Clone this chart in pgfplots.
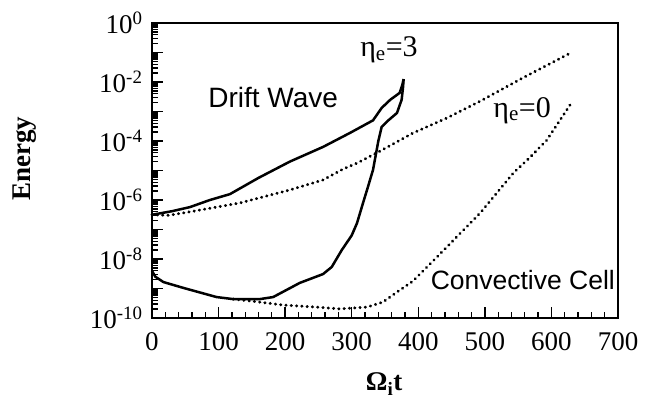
\documentclass[border=0pt]{standalone}
\usepackage{fontspec}
\setmainfont{Liberation Serif}
\newfontfamily\sansf{Liberation Sans}
\usepackage{pgfplots}
\pgfplotsset{compat=1.18}
\begin{document}
\begin{tikzpicture}
\begin{axis}[
  scale only axis, width=466pt, height=295pt,
  xmin=0, xmax=700, ymin=1e-10, ymax=1, ymode=log,
  xtick={0,100,...,700}, xticklabels={0,100,200,300,400,500,600,700},
  minor x tick num=4,
  ytick={1e-10,1e-9,1e-8,1e-7,1e-6,1e-5,1e-4,1e-3,1e-2,1e-1,1},
  yticklabels={10\textsuperscript{-10},,10\textsuperscript{-8},,10\textsuperscript{-6},,10\textsuperscript{-4},,10\textsuperscript{-2},,10\textsuperscript{0}},
  tick align=inside, xtick pos=bottom, ytick pos=left,
  major tick length=11pt, minor tick length=6pt,
  every tick/.style={black, line width=1.3pt},
  axis line style={line width=2.2pt},
  tick label style={font=\fontsize{27}{30}\selectfont},
  yticklabel style={xshift=-6pt},
  xticklabel style={yshift=-11pt},
  xlabel={Ω\textsubscript{i}t},
  ylabel={Energy},
  label style={font=\bfseries\fontsize{27}{30}\selectfont},
  xlabel style={at={(axis description cs:0.498,-0.224)}, anchor=center},
  ylabel style={at={(axis description cs:-0.273,0.54)}, anchor=center},
  clip=false,
]
% eta_e=3 drift wave (solid)
\addplot[black, line width=2.5pt, line join=round] coordinates {
(0,3.16e-7)(30,4.17e-7)(57,5.75e-7)(87,1.0e-6)(117,1.58e-6)(160,5.62e-6)(207,2.0e-5)(257,6.31e-5)(297,1.86e-4)(332,5.01e-4)(345,1.32e-3)(358,2.51e-3)(372,4.27e-3)(376,7.94e-3)(378,1.26e-2)
};
% eta_e=3 convective cell (solid)
\addplot[black, line width=2.5pt, line join=round] coordinates {
(0,3.98e-9)(5,2.51e-9)(17,1.66e-9)(47,1.05e-9)(97,5.13e-10)(122,4.37e-10)(162,4.37e-10)(182,5.13e-10)(222,1.55e-9)(257,3.09e-9)(270,5.37e-9)(285,2.0e-8)(300,6.31e-8)(308,1.66e-7)(317,7.94e-7)(323,2.19e-6)(332,1.05e-5)(340,1.0e-4)(345,3.02e-4)(355,5.01e-4)(368,8.91e-4)(375,2.51e-3)(377,6.31e-3)(378,1.26e-2)
};
% eta_e=0 drift wave (dotted)
\addplot[black, line width=3pt, line cap=round, dash pattern=on 0.3pt off 5pt] coordinates {
(0,3.16e-7)(25,3.02e-7)(57,3.98e-7)(132,7.94e-7)(207,2.19e-6)(257,4.79e-6)(287,1.12e-5)(308,1.78e-5)(342,4.47e-5)(392,1.86e-4)(443,6.03e-4)(493,2.24e-3)(557,1.38e-2)(630,1.0e-1)
};
% eta_e=0 convective cell (dotted)
\addplot[black, line width=3pt, line cap=round, dash pattern=on 0.3pt off 5pt] coordinates {
(122,4.37e-10)(147,3.80e-10)(197,2.75e-10)(247,2.34e-10)(282,2.04e-10)(323,2.34e-10)(347,3.47e-10)(368,7.59e-10)(392,1.78e-9)(443,2.57e-8)(493,3.63e-7)(543,8.32e-6)(568,2.82e-5)(593,1.07e-4)(630,1.95e-3)
};
\node[font=\sansf\fontsize{28}{30}\selectfont] at (axis cs:182,2.9e-3) {Drift Wave};
\node[font=\fontsize{30}{32}\selectfont] at (axis cs:356,0.12) {η\textsubscript{e}=3};
\node[font=\fontsize{30}{32}\selectfont] at (axis cs:556,1.1e-3) {η\textsubscript{e}=0};
\node[font=\sansf\fontsize{26.5}{30}\selectfont] at (axis cs:557,1.95e-9) {Convective Cell};
\end{axis}
\path (-152pt,-87pt) rectangle (501pt,318pt);
\end{tikzpicture}
\end{document}
